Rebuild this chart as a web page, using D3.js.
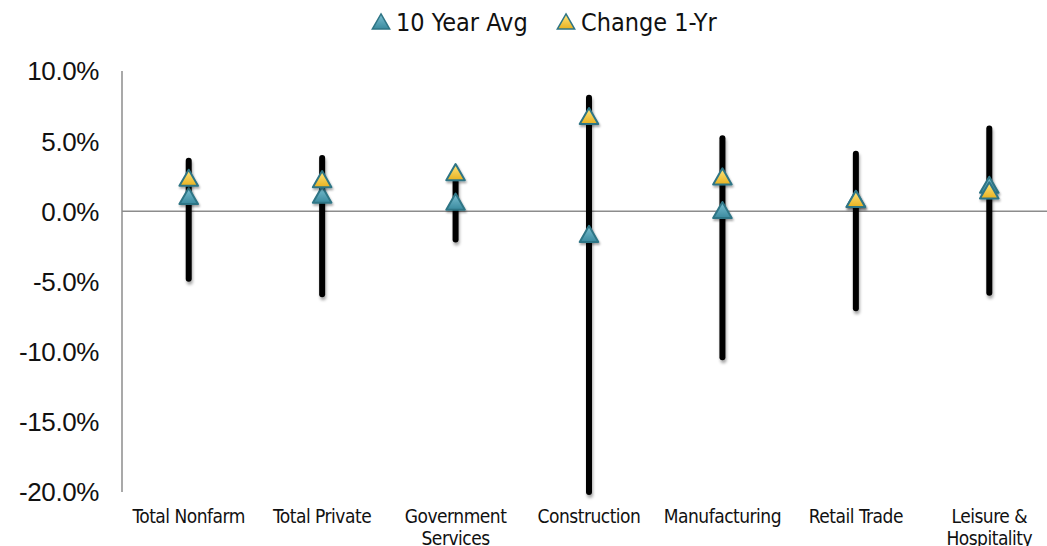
<!DOCTYPE html>
<html>
<head>
<meta charset="utf-8">
<script src="https://d3js.org/d3.v7.min.js"></script>
<style>
  body { margin: 0; background: #fff; }
  svg { display: block; }
</style>
</head>
<body>
<div id="chart"></div>
<script>
// categories and values (percent)
var categories = ["Total Nonfarm", "Total Private", "Government Services", "Construction", "Manufacturing", "Retail Trade", "Leisure & Hospitality"];
var labelLines = [["Total Nonfarm"], ["Total Private"], ["Government", "Services"], ["Construction"], ["Manufacturing"], ["Retail Trade"], ["Leisure &", "Hospitality"]];
var highValues = [3.6, 3.8, 2.2, 8.1, 5.2, 4.1, 5.9];
var lowValues = [-4.8, -5.9, -2.0, -20.0, -10.4, -6.9, -5.8];
var avg10Yr = [0.9, 1.0, 0.5, -1.8, -0.1, 0.7, 1.7];
var change1Yr = [2.2, 2.1, 2.6, 6.6, 2.3, 0.7, 1.3];
var yTicks = [10, 5, 0, -5, -10, -15, -20];

var width = 1047, height = 546;
var margin = { top: 71, right: -9, bottom: 54, left: 122 };

var svg = d3.select("#chart").append("svg")
    .attr("width", width)
    .attr("height", height);

var defs = svg.append("defs");
// shadow for the vertical bars (zero-width bbox, so use user space)
var lineShadow = defs.append("filter").attr("id", "lineShadow")
    .attr("filterUnits", "userSpaceOnUse")
    .attr("x", 0).attr("y", 0).attr("width", width).attr("height", height);
lineShadow.append("feDropShadow").attr("dx", 1).attr("dy", 3).attr("stdDeviation", 1.5)
    .attr("flood-color", "#000").attr("flood-opacity", 0.35);
// shadow for the triangles
var markShadow = defs.append("filter").attr("id", "markShadow")
    .attr("x", "-50%").attr("y", "-50%").attr("width", "200%").attr("height", "200%");
markShadow.append("feDropShadow").attr("dx", 1).attr("dy", 2).attr("stdDeviation", 1.2)
    .attr("flood-color", "#000").attr("flood-opacity", 0.35);

var gBlue = defs.append("linearGradient").attr("id", "gBlue").attr("x1", 0).attr("y1", 0).attr("x2", 0).attr("y2", 1);
gBlue.append("stop").attr("offset", "0%").attr("stop-color", "#7cc0d2");
gBlue.append("stop").attr("offset", "100%").attr("stop-color", "#3a8a9e");
var gYellow = defs.append("linearGradient").attr("id", "gYellow").attr("x1", 0).attr("y1", 0).attr("x2", 0).attr("y2", 1);
gYellow.append("stop").attr("offset", "0%").attr("stop-color", "#ffe680");
gYellow.append("stop").attr("offset", "100%").attr("stop-color", "#e8b220");

var x = d3.scaleBand()
    .domain(categories)
    .range([margin.left, width - margin.right]);

var y = d3.scaleLinear()
    .domain([-20, 10])
    .range([height - margin.bottom, margin.top]);

// y axis line
svg.append("line")
    .attr("x1", margin.left).attr("x2", margin.left)
    .attr("y1", y(10)).attr("y2", y(-20))
    .attr("stroke", "#8c8c8c").attr("stroke-width", 1.5);

// zero line
svg.append("line")
    .attr("x1", margin.left).attr("x2", width)
    .attr("y1", y(0)).attr("y2", y(0))
    .attr("stroke", "#8c8c8c").attr("stroke-width", 1.5);

// y tick labels
svg.selectAll(".ylab")
    .data(yTicks)
    .enter().append("text")
    .attr("x", 99)
    .attr("y", function (d) { return y(d); })
    .attr("dy", "0.36em")
    .attr("text-anchor", "end")
    .style("font-family", "'Liberation Sans', Arial, sans-serif")
    .style("font-size", "26px")
    .style("letter-spacing", "-0.4px")
    .style("fill", "#111")
    .text(function (d) { return d.toFixed(1) + "%"; });

var data = categories.map(function (c, i) {
    return { cat: c, hi: highValues[i], lo: lowValues[i], avg: avg10Yr[i], chg: change1Yr[i], lines: labelLines[i] };
});

// high-low bars
svg.selectAll(".range")
    .data(data)
    .enter().append("line")
    .attr("x1", function (d) { return x(d.cat) + x.bandwidth() / 2; })
    .attr("x2", function (d) { return x(d.cat) + x.bandwidth() / 2; })
    .attr("y1", function (d) { return y(d.hi); })
    .attr("y2", function (d) { return y(d.lo); })
    .attr("stroke", "#000")
    .attr("stroke-width", 6)
    .attr("stroke-linecap", "round")
    .attr("filter", "url(#lineShadow)");

var tri = d3.symbol().type(d3.symbolTriangle).size(150);

function drawMarkers(key, fill) {
    svg.selectAll(".m-" + key)
        .data(data)
        .enter().append("path")
        .attr("d", tri)
        .attr("transform", function (d) { return "translate(" + (x(d.cat) + x.bandwidth() / 2) + "," + y(d[key]) + ")"; })
        .attr("fill", fill)
        .attr("stroke", "#2f7585")
        .attr("stroke-width", 2)
        .attr("stroke-linejoin", "round")
        .attr("filter", "url(#markShadow)");
}
drawMarkers("avg", "url(#gBlue)");
drawMarkers("chg", "url(#gYellow)");

// x labels
var xl = svg.selectAll(".xlab")
    .data(data)
    .enter().append("text")
    .attr("text-anchor", "middle")
    .style("font-family", "'DejaVu Sans', sans-serif")
    .style("font-stretch", "condensed")
    .style("font-size", "19px")
    .style("letter-spacing", "-0.5px")
    .style("fill", "#111");
xl.selectAll("tspan")
    .data(function (d) { return d.lines.map(function (l) { return { l: l, cx: x(d.cat) + x.bandwidth() / 2 }; }); })
    .enter().append("tspan")
    .attr("x", function (d) { return d.cx; })
    .attr("y", function (d, i) { return 523 + i * 22; })
    .text(function (d) { return d.l; });

// legend
var legend = [{ name: "10 Year Avg", fill: "url(#gBlue)", x: 381 }, { name: "Change 1-Yr", fill: "url(#gYellow)", x: 566 }];
var lg = svg.selectAll(".leg")
    .data(legend)
    .enter().append("g")
    .attr("transform", function (d) { return "translate(" + d.x + ",22)"; });
lg.append("path")
    .attr("d", d3.symbol().type(d3.symbolTriangle).size(130))
    .attr("transform", "translate(0,2)")
    .attr("fill", function (d) { return d.fill; })
    .attr("stroke", "#2f7585")
    .attr("stroke-width", 1.5);
lg.append("text")
    .attr("x", 15)
    .attr("dy", "0.36em")
    .style("font-family", "'DejaVu Sans', sans-serif")
    .style("font-stretch", "condensed")
    .style("font-size", "25px")
    .style("fill", "#111")
    .text(function (d) { return d.name; });
</script>
</body>
</html>
